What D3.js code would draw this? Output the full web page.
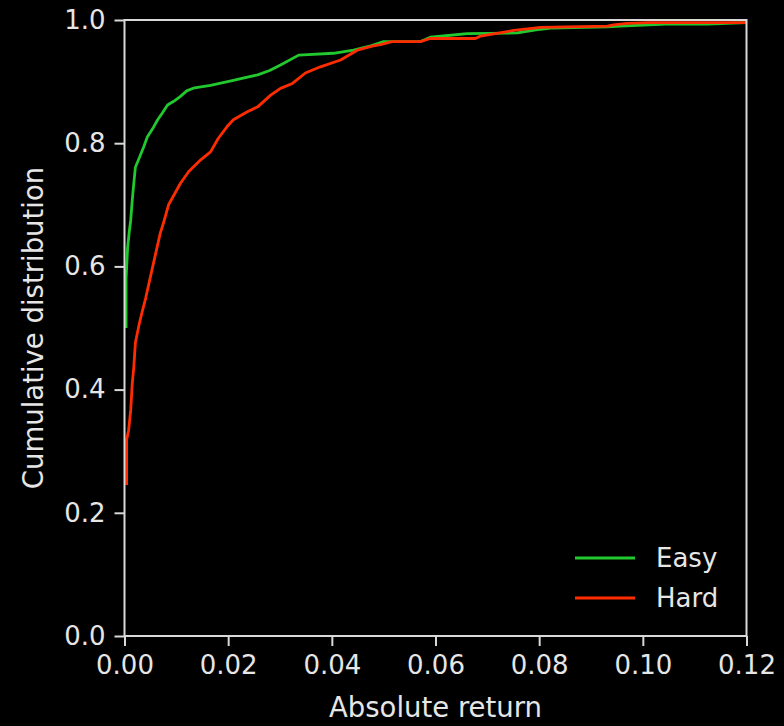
<!DOCTYPE html>
<html>
<head>
<meta charset="utf-8">
<script src="https://cdn.jsdelivr.net/npm/d3@7"></script>
<style>
  html, body { margin: 0; padding: 0; background: #000; }
  svg { display: block; }
  text { font-family: "DejaVu Sans", sans-serif; fill: #e6e6e6; }
</style>
</head>
<body>
<svg id="chart" width="784" height="726"></svg>
<script>
// ---- data ----
const seriesNames = ["Easy", "Hard"];
const seriesColors = ["#22c92e", "#ff2c00"];

const easyX = [0.0003,0.0003,0.0006,0.0009,0.0012,0.0015,0.0018,0.0021,0.0027,0.0037,0.0044,0.0056,0.0064,0.0073,0.0083,0.0095,0.0108,0.0120,0.0135,0.0166,0.021,0.0235,0.0257,0.028,0.0301,0.0336,0.0403,0.0442,0.0475,0.050,0.0571,0.059,0.0661,0.0758,0.0803,0.0822,0.0932,0.0957,0.1044,0.1125,0.12];
const easyY = [0.50,0.58,0.63,0.655,0.675,0.708,0.735,0.761,0.773,0.794,0.81,0.826,0.838,0.849,0.862,0.868,0.876,0.885,0.890,0.894,0.902,0.907,0.911,0.918,0.927,0.943,0.946,0.951,0.958,0.965,0.965,0.972,0.978,0.979,0.985,0.987,0.989,0.990,0.9935,0.9935,0.9956];

const hardX = [0.0004,0.0004,0.0008,0.0012,0.0015,0.0018,0.0021,0.0028,0.0034,0.0041,0.0050,0.0058,0.0069,0.0075,0.0085,0.0108,0.0124,0.0147,0.0166,0.0181,0.0198,0.021,0.0237,0.0257,0.0282,0.0301,0.0324,0.0349,0.0378,0.0417,0.0449,0.048,0.0494,0.0516,0.0571,0.059,0.0677,0.0687,0.0751,0.0803,0.0932,0.0944,0.097,0.101,0.12];
const hardY = [0.245,0.318,0.334,0.367,0.41,0.437,0.476,0.505,0.526,0.549,0.583,0.613,0.654,0.67,0.70,0.735,0.754,0.773,0.786,0.808,0.827,0.838,0.851,0.859,0.878,0.889,0.897,0.914,0.924,0.935,0.951,0.958,0.960,0.965,0.965,0.970,0.970,0.974,0.983,0.988,0.990,0.992,0.9946,0.9956,0.9956];

const xTicks = [0, 0.02, 0.04, 0.06, 0.08, 0.10, 0.12];
const yTicks = [0, 0.2, 0.4, 0.6, 0.8, 1.0];
const xLabel = "Absolute return";
const yLabel = "Cumulative distribution";

// ---- layout ----
const svg = d3.select("#chart");
const plotL = 124.5, plotR = 746.5, plotT = 20, plotB = 636;
const x = d3.scaleLinear().domain([0, 0.12]).range([plotL, plotR]);
const y = d3.scaleLinear().domain([0, 1]).range([plotB, plotT]);
const fontSize = 26;
const labelSize = 27.5;
const axisColor = "#d8d8d8";

svg.append("rect").attr("width", 784).attr("height", 726).attr("fill", "#000");

svg.append("defs").append("clipPath").attr("id", "clip")
  .append("rect").attr("x", plotL).attr("y", plotT).attr("width", plotR - plotL).attr("height", plotB - plotT);

// lines
const series = [
  easyX.map((v, i) => [v, easyY[i]]),
  hardX.map((v, i) => [v, hardY[i]])
];
const line = d3.line().x(d => x(d[0])).y(d => y(d[1])).curve(d3.curveLinear);
const g = svg.append("g").attr("clip-path", "url(#clip)");
series.forEach((s, i) => {
  g.append("path").datum(s).attr("d", line)
    .attr("fill", "none").attr("stroke", seriesColors[i])
    .attr("stroke-width", 2.8).attr("stroke-linejoin", "round");
});

// axes
const xAxis = d3.axisBottom(x).tickValues(xTicks).tickFormat(d3.format(".2f")).tickSize(10).tickPadding(10);
const yAxis = d3.axisLeft(y).tickValues(yTicks).tickFormat(d3.format(".1f")).tickSize(10).tickPadding(9);

const gx = svg.append("g").attr("transform", `translate(0,${plotB})`).call(xAxis);
const gy = svg.append("g").attr("transform", `translate(${plotL},0)`).call(yAxis);
[gx, gy].forEach(a => {
  a.select(".domain").remove();
  a.selectAll(".tick line").attr("stroke", axisColor).attr("stroke-width", 2);
  a.selectAll(".tick text").attr("fill", "#e6e6e6").style("font-size", fontSize + "px")
    .style("font-family", "'DejaVu Sans', sans-serif");
});

// spines (full box)
svg.append("rect").attr("x", plotL).attr("y", plotT).attr("width", plotR - plotL).attr("height", plotB - plotT)
  .attr("fill", "none").attr("stroke", axisColor).attr("stroke-width", 2);

// axis labels
svg.append("text").attr("x", (plotL + plotR) / 2).attr("y", 717)
  .attr("text-anchor", "middle").style("font-size", labelSize + "px").text(xLabel);
svg.append("text").attr("transform", `translate(43,${(plotT + plotB) / 2}) rotate(-90)`)
  .attr("text-anchor", "middle").style("font-size", labelSize + "px").text(yLabel);

// legend
const legendY = [558, 598];
seriesNames.forEach((name, i) => {
  svg.append("line").attr("x1", 575).attr("x2", 635).attr("y1", legendY[i]).attr("y2", legendY[i])
    .attr("stroke", seriesColors[i]).attr("stroke-width", 3);
  svg.append("text").attr("x", 656).attr("y", legendY[i] + 8.5)
    .style("font-size", fontSize + "px").text(name);
});
</script>
</body>
</html>
